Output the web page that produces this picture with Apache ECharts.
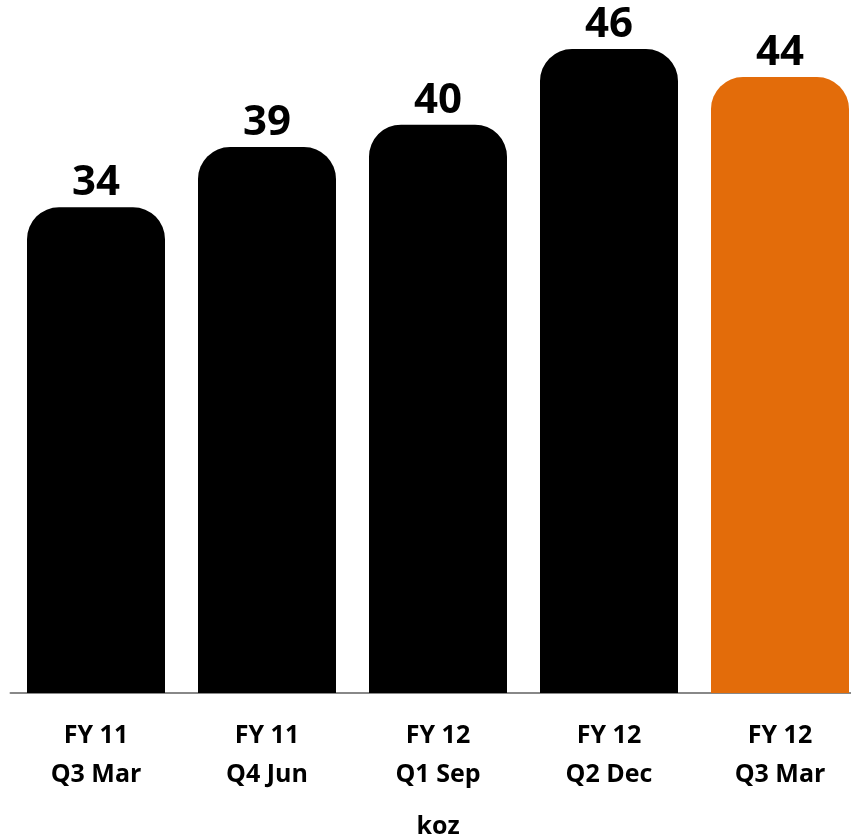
<!DOCTYPE html>
<html><head><meta charset="utf-8">
<script src="https://cdn.jsdelivr.net/npm/echarts@6/dist/echarts.min.js"></script>
<style>html,body{margin:0;padding:0;background:#fff}#c{width:851px;height:839px}</style>
</head><body><div id="c"></div>
<script>
const categories = ['FY 11\nQ3 Mar','FY 11\nQ4 Jun','FY 12\nQ1 Sep','FY 12\nQ2 Dec','FY 12\nQ3 Mar'];
const values = [34.7, 39, 40.6, 46, 44];
const valueLabels = ['34', '39', '40', '46', '44'];
const barColors = ['#000000','#000000','#000000','#000000','#E36C0A'];
const axisName = 'koz';

const chart = echarts.init(document.getElementById('c'));
chart.setOption({
  animation: false,
  grid: {left: 10.5, width: 855, top: 10, bottom: 146, containLabel: false, outerBoundsMode: 'none'},
  xAxis: {
    type: 'category', data: categories,
    name: axisName, nameLocation: 'middle', nameGap: 121,
    nameTextStyle: {fontFamily: 'Open Sans', fontWeight: 'bold', fontSize: 25, color: '#000'},
    axisLine: {lineStyle: {color: '#888', width: 2}},
    axisTick: {show: false},
    axisLabel: {fontFamily: 'Open Sans', fontWeight: 'bold', fontSize: 25, color: '#000', lineHeight: 39, margin: 23}
  },
  yAxis: {type: 'value', min: 0, max: 48.79, show: false, splitLine: {show: false}},
  series: [{
    type: 'bar', barWidth: '80.7%',
    data: values.map((v, i) => ({value: v, itemStyle: {color: barColors[i]}})),
    itemStyle: {borderRadius: [32, 32, 0, 0]},
    label: {show: true, position: 'top', distance: 3, fontFamily: 'Open Sans', fontWeight: 'bold', fontSize: 42, color: '#000',
      formatter: p => valueLabels[p.dataIndex]}
  }]
});
</script></body></html>
